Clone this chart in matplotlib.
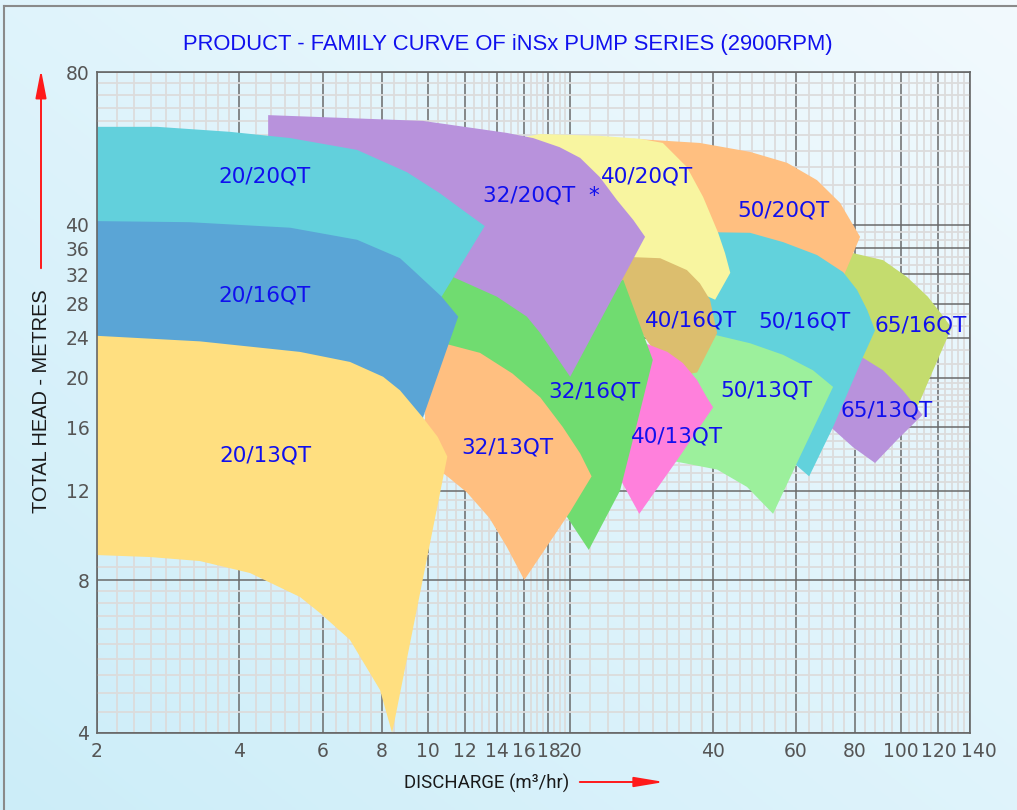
"""iNSx pump series family curve (2900 RPM), log-log operating regions"""
import numpy as np
import matplotlib
matplotlib.use('Agg')
import matplotlib.pyplot as plt
from matplotlib.patches import Polygon, FancyArrowPatch
from matplotlib.transforms import ScaledTranslation

# ===== operating region outlines: discharge (m3/hr) and head (m) =====
q_65_16 = [74.4, 79.3, 91.7, 103, 114, 123, 128, 117, 110, 107, 94.9, 84, 78.1]
h_65_16 = [34.4, 35.2, 34.1, 31.6, 28.9, 26.4, 25.1, 20.7, 18.1, 17.1, 19.4, 20.9, 24.8]
q_50_20 = [25.5, 27.2, 37.6, 48, 57.5, 66.5, 74.4, 82, 76.2, 73.7, 50.4, 39.9]
h_50_20 = [58.5, 59.1, 58, 55.7, 53, 49, 44.2, 37.9, 32.2, 30.5, 37, 37.4]
q_65_13 = [80, 83.2, 91.7, 101, 108, 111, 98.2, 88.2, 79.3, 71.6, 70.9]
h_65_13 = [21.5, 21.9, 20.7, 18.9, 17.5, 16.9, 15.1, 13.6, 14.6, 15.9, 16.7]
q_50_16 = [39.9, 48.0, 56.4, 66.5, 75.5, 80.8, 84.9, 88.2, 83.2, 71.9, 64.0, 58.3, 45.7, 38.6]
h_50_16 = [38.7, 38.6, 37.0, 34.9, 32.3, 29.8, 27.2, 24.8, 22.0, 16.0, 12.8, 13.8, 19.4, 25.4]
q_50_13 = [38.6, 40.5, 48, 56.4, 65.2, 71.9, 61.2, 53.7, 47.3, 40.9, 33.3, 31.7, 35.8]
h_50_13 = [24.1, 24.3, 23.4, 22.2, 20.7, 19.2, 14, 10.8, 12.2, 13.2, 13.7, 15.1, 20.5]
q_40_20 = [14.2, 17.3, 23.1, 28.1, 31.4, 35.3, 38.2, 41.1, 42.5, 43.6, 40.5, 37.6, 31, 25.5]
h_40_20 = [58.3, 60.4, 59.9, 59.1, 58, 52, 45.4, 38.6, 35.2, 32.2, 28.5, 29.4, 32.9, 33.8]
q_40_16 = [26.5, 31, 35.3, 37.6, 39.5, 40.9, 37.1, 35, 31, 28.1, 25.5]
h_40_16 = [34.6, 34.4, 32.6, 30.7, 28.5, 24.5, 20.5, 20.3, 21.7, 24.8, 30.5]
q_40_13 = [28.8, 32.1, 34.6, 37.1, 38.9, 40.1, 33.7, 28, 25.1, 24.5, 27]
h_40_13 = [23.4, 22.5, 21.4, 19.8, 18.3, 17.5, 13.8, 10.8, 13, 15.8, 22.5]
q_32_16 = [10.6, 12.3, 19, 24.9, 25.9, 29.9, 27.8, 25.5, 21.9, 19, 14.2, 11.1]
h_32_16 = [30.5, 34.9, 30.5, 30.7, 31.2, 21.7, 16.5, 12, 9.17, 11.2, 15.8, 19.4]
q_32_20 = [4.6, 9.77, 14.7, 16.7, 19, 21, 23.1, 25.1, 27.2, 28.8, 20, 17.3, 16.2, 14, 11.3, 9.63, 4.6]
h_32_20 = [65.8, 64.1, 60.7, 59.3, 56.9, 54.2, 49.7, 44.8, 40.9, 37.9, 20.1, 24.5, 26.4, 28.9, 31.6, 33.4, 37.4]
q_32_13 = [10.8, 12.9, 15.1, 17.3, 19.3, 21, 22.2, 20, 16, 14.7, 13.5, 12.1, 11, 9.87, 9.87]
h_32_13 = [23.4, 22.4, 20.4, 18.3, 16, 14.2, 12.8, 10.9, 8, 9.29, 10.6, 11.9, 12.8, 13.8, 18.5]
q_20_20 = [2, 2.68, 3.82, 5.12, 7.09, 9.04, 10.6, 12.1, 13.2, 10.7, 9.63, 5.37, 2]
h_20_20 = [62.4, 62.4, 61, 59.3, 56.2, 50.8, 46.2, 42.2, 39.8, 28.9, 27.8, 34.9, 36.5]
q_20_16 = [2, 3.14, 5.12, 7.09, 8.74, 9.31, 10.7, 11.6, 9.77, 8.74, 2]
h_20_16 = [40.7, 40.5, 39.5, 37.4, 34.4, 32.6, 28.9, 26.4, 16.7, 14.8, 16.5]
q_20_13 = [2, 3.3, 5.37, 6.85, 8.05, 8.74, 9.77, 10.5, 11, 8.41, 7.93, 6.85, 5.92, 5.37, 4.21, 3.3, 2.59, 2]
h_20_13 = [24.2, 23.6, 22.5, 21.5, 20.1, 18.9, 16.7, 15.3, 14, 4, 4.86, 6.1, 6.89, 7.41, 8.26, 8.72, 8.88, 8.96]

# drawn bottom -> top
regions = [
    (q_65_16, h_65_16, '#c4dc6e'), (q_50_20, h_50_20, '#ffbf80'), (q_65_13, h_65_13, '#b892dc'),
    (q_50_16, h_50_16, '#62d2dc'), (q_50_13, h_50_13, '#9cf09c'), (q_40_20, h_40_20, '#f8f5a0'),
    (q_40_16, h_40_16, '#dcbe6e'), (q_40_13, h_40_13, '#ff80dc'), (q_32_16, h_32_16, '#70dc70'),
    (q_32_20, h_32_20, '#b892dc'), (q_32_13, h_32_13, '#ffbf80'), (q_20_20, h_20_20, '#62d0dc'),
    (q_20_16, h_20_16, '#5aa5d6'), (q_20_13, h_20_13, '#ffdf80'),
]

lab_txt = ['20/20QT', '20/16QT', '20/13QT', '32/20QT  *', '40/20QT', '50/20QT', '40/16QT', '50/16QT',
           '65/16QT', '32/16QT', '50/13QT', '65/13QT', '32/13QT', '40/13QT']
lab_q = [4.51, 4.51, 4.53, 17.4, 29.1, 56.4, 36, 62.4, 110, 22.5, 51.9, 93.1, 14.7, 33.7]
lab_h = [48.4, 28.3, 13.7, 44.4, 48.4, 41.5, 25.2, 25.1, 24.7, 18.3, 18.4, 16.8, 14.2, 14.9]

x_ticks = [2, 4, 6, 8, 10, 12, 14, 16, 18, 20, 40, 60, 80, 100, 120, 140]
y_ticks = [4, 8, 12, 16, 20, 24, 28, 32, 36, 40, 80]

fig = plt.figure(figsize=(10.17, 8.10), dpi=100)

# pale blue gradient background
bg = fig.add_axes([0, 0, 1, 1], zorder=-10)
bg.axis('off')
yy, xx = np.mgrid[0:1:300j, 0:1:300j]
t = ((xx + (1 - yy)) / 2)[..., None]
c0 = np.array([0.80, 0.93, 0.975]); c1 = np.array([0.95, 0.98, 0.995])
bg.imshow(c0 + (c1 - c0) * t, aspect='auto', extent=[0, 1, 0, 1])

ax = fig.add_axes([97/1017, 1-733/810, 873/1017, 661/810])
ax.set_facecolor('none')
ax.set_xscale('log'); ax.set_yscale('log')
ax.set_xlim(2, 140); ax.set_ylim(4, 80)

for qq, hh, col in regions:
    ax.add_patch(Polygon(np.column_stack([qq, hh]), closed=True, facecolor=col, edgecolor='none', zorder=2))
for s, xq, yh in zip(lab_txt, lab_q, lab_h):
    ax.text(xq, yh, s, ha='center', va='baseline', color='#1010ee', fontsize=15.5, zorder=5)

# graph-paper grid
x_minor = list(np.arange(2.2, 4, 0.2)) + list(np.linspace(4, 6, 7)[1:-1]) + list(np.arange(6.4, 8, 0.4)) + \
          list(np.arange(8.5, 20, 0.5)) + list(np.arange(22, 40, 2)) + list(np.linspace(40, 60, 8)[1:-1]) + \
          list(np.arange(64, 140, 4))
y_minor = list(np.arange(4.4, 8, 0.4)) + list(np.arange(8.5, 20, 0.5)) + \
          [v for a in range(20, 40, 4) for v in np.linspace(a, a + 4, 4)[1:-1]] + list(np.arange(44, 80, 4))
ax.set_xticks(x_ticks); ax.set_xticklabels([str(v) for v in x_ticks])
ax.set_yticks(y_ticks); ax.set_yticklabels([str(v) for v in y_ticks])
ax.set_xticks([v for v in x_minor if v not in x_ticks], minor=True)
ax.set_yticks([v for v in y_minor if v not in y_ticks], minor=True)
ax.xaxis.set_minor_formatter(plt.NullFormatter()); ax.yaxis.set_minor_formatter(plt.NullFormatter())
ax.set_axisbelow(True)
ax.grid(which='minor', color='#dcdcdc', lw=1.3)
ax.grid(which='major', color='#6a6a6a', lw=1.1)
ax.tick_params(which='both', length=0, labelsize=13.5, labelcolor='#555555')
ax.tick_params(axis='x', pad=6.5); ax.tick_params(axis='y', pad=5.5)
for sp in ax.spines.values():
    sp.set_color('#666666'); sp.set_linewidth(1.2)
last = ax.get_xticklabels()[-1]
last.set_transform(last.get_transform() + ScaledTranslation(0.09, 0, fig.dpi_scale_trans))

fig.text(508/1017, 1-50/810, 'PRODUCT - FAMILY CURVE OF iNSx PUMP SERIES (2900RPM)', ha='center', va='baseline',
         color='#1010ee', fontsize=15.8, family='Liberation Sans')
fig.text(42/1017, 1-401/810, 'TOTAL HEAD - METRES', rotation=90, ha='center', va='center',
         color='#1a1a1a', fontsize=14.4, family='Liberation Sans')
fig.text(487/1017, 1-789/810, 'DISCHARGE (m³/hr)', ha='center', va='baseline', color='#1a1a1a',
         fontsize=13.4, family='Roboto')
fig.add_artist(FancyArrowPatch((41/1017, 1-271/810), (41/1017, 1-67/810), transform=fig.transFigure,
               arrowstyle='-|>,head_length=1.7,head_width=0.33', mutation_scale=10, color='#ff1a1a', lw=1.4))
fig.add_artist(FancyArrowPatch((577/1017, 1-782/810), (667/1017, 1-782/810), transform=fig.transFigure,
               arrowstyle='-|>,head_length=1.8,head_width=0.3', mutation_scale=10, color='#ff1a1a', lw=1.4))
fig.add_artist(plt.Line2D([4/1017, 4/1017], [0, 1-6/810], transform=fig.transFigure, color='#8a8a8a', lw=1.5))
fig.add_artist(plt.Line2D([4/1017, 1], [1-6/810, 1-6/810], transform=fig.transFigure, color='#8a8a8a', lw=1.5))

fig.savefig('out.png', dpi=100)
